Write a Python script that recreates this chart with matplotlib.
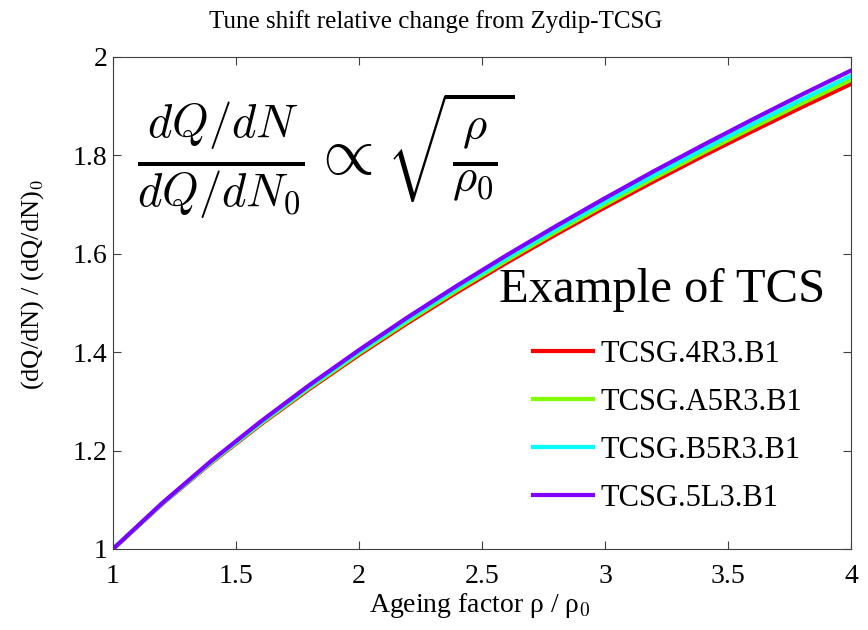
import matplotlib.pyplot as plt

plt.rcParams['font.family'] = ['Liberation Serif', 'DejaVu Serif']
plt.rcParams['mathtext.fontset'] = 'cm'

# ageing factor rho / rho_0
rho = [1.0, 1.2, 1.4, 1.6, 1.8, 2.0, 2.2, 2.4, 2.6, 2.8, 3.0, 3.2, 3.4, 3.6, 3.8, 4.0]

tcsg_4r3 = [1.0, 1.0915, 1.1753, 1.2531, 1.3259, 1.3947, 1.4601, 1.5223, 1.5818, 1.6392,
            1.6943, 1.7477, 1.7993, 1.8493, 1.8981, 1.9453]
tcsg_a5r3 = [1.0, 1.0921, 1.1765, 1.2548, 1.3283, 1.3977, 1.4635, 1.5264, 1.5864, 1.6443,
             1.6998, 1.7538, 1.8059, 1.8565, 1.9057, 1.9535]
tcsg_b5r3 = [1.0, 1.0926, 1.1776, 1.2566, 1.3307, 1.4005, 1.4670, 1.5304, 1.5910, 1.6494,
             1.7055, 1.7600, 1.8126, 1.8636, 1.9133, 1.9617]
tcsg_5l3 = [1.0, 1.0934, 1.1793, 1.2590, 1.3338, 1.4044, 1.4717, 1.5357, 1.5971, 1.6561,
            1.7131, 1.7683, 1.8214, 1.8731, 1.9236, 1.9725]

names = ['TCSG.4R3.B1', 'TCSG.A5R3.B1', 'TCSG.B5R3.B1', 'TCSG.5L3.B1']
colors = ['#ff0000', '#80ff00', '#00ffff', '#8000ff']

fig = plt.figure(figsize=(8.68, 6.30), dpi=100)
ax = fig.add_axes([113/868, 1-549/630, 738/868, 492/630])

for ys, name, c in zip([tcsg_4r3, tcsg_a5r3, tcsg_b5r3, tcsg_5l3], names, colors):
    ax.plot(rho, ys, color=c, lw=3, label=name)

ax.set_xlim(1, 4)
ax.set_ylim(1, 2)
ax.set_xticks([1, 1.5, 2, 2.5, 3, 3.5, 4])
ax.set_xticklabels(['1', '1.5', '2', '2.5', '3', '3.5', '4'])
ax.set_yticks([1, 1.2, 1.4, 1.6, 1.8, 2])
ax.set_yticklabels(['1', '1.2', '1.4', '1.6', '1.8', '2'])
ax.tick_params(direction='in', top=True, right=True, labelsize=20, length=6,
               width=0.8, color='#404040')
ax.tick_params(axis='x', pad=11)
ax.tick_params(axis='y', pad=4)
for sp in ax.spines.values():
    sp.set_color('#404040')
    sp.set_linewidth(0.8)

fig.text(436/868, 1-22/630, 'Tune shift relative change from Zydip-TCSG', fontsize=18,
         ha='center', va='center')
fig.text(480/868, 1-606/630, r'Ageing factor ρ / ρ$_{\mathrm{0}}$', fontsize=20,
         ha='center', va='center')
fig.text(33/868, 1-285/630, r'(dQ/dN) / (dQ/dN)$_{\mathrm{0}}$', fontsize=19,
         ha='center', va='center', rotation=90)

ax.text(0.032, 0.80, r'$\frac{dQ/dN}{dQ/dN_0} \propto \sqrt{\frac{\rho}{\rho_0}}$',
        transform=ax.transAxes, fontsize=48, va='center', ha='left')
ax.text(0.523, 0.526, 'Example of TCS', transform=ax.transAxes, fontsize=35,
        va='center', ha='left')

ax.legend(loc='upper left', bbox_to_anchor=(0.569, 0.425), frameon=False, fontsize=22,
          handlelength=1.96, handletextpad=0.25, labelspacing=0.62, borderaxespad=0,
          borderpad=0)

fig.savefig('out.png', dpi=100)
